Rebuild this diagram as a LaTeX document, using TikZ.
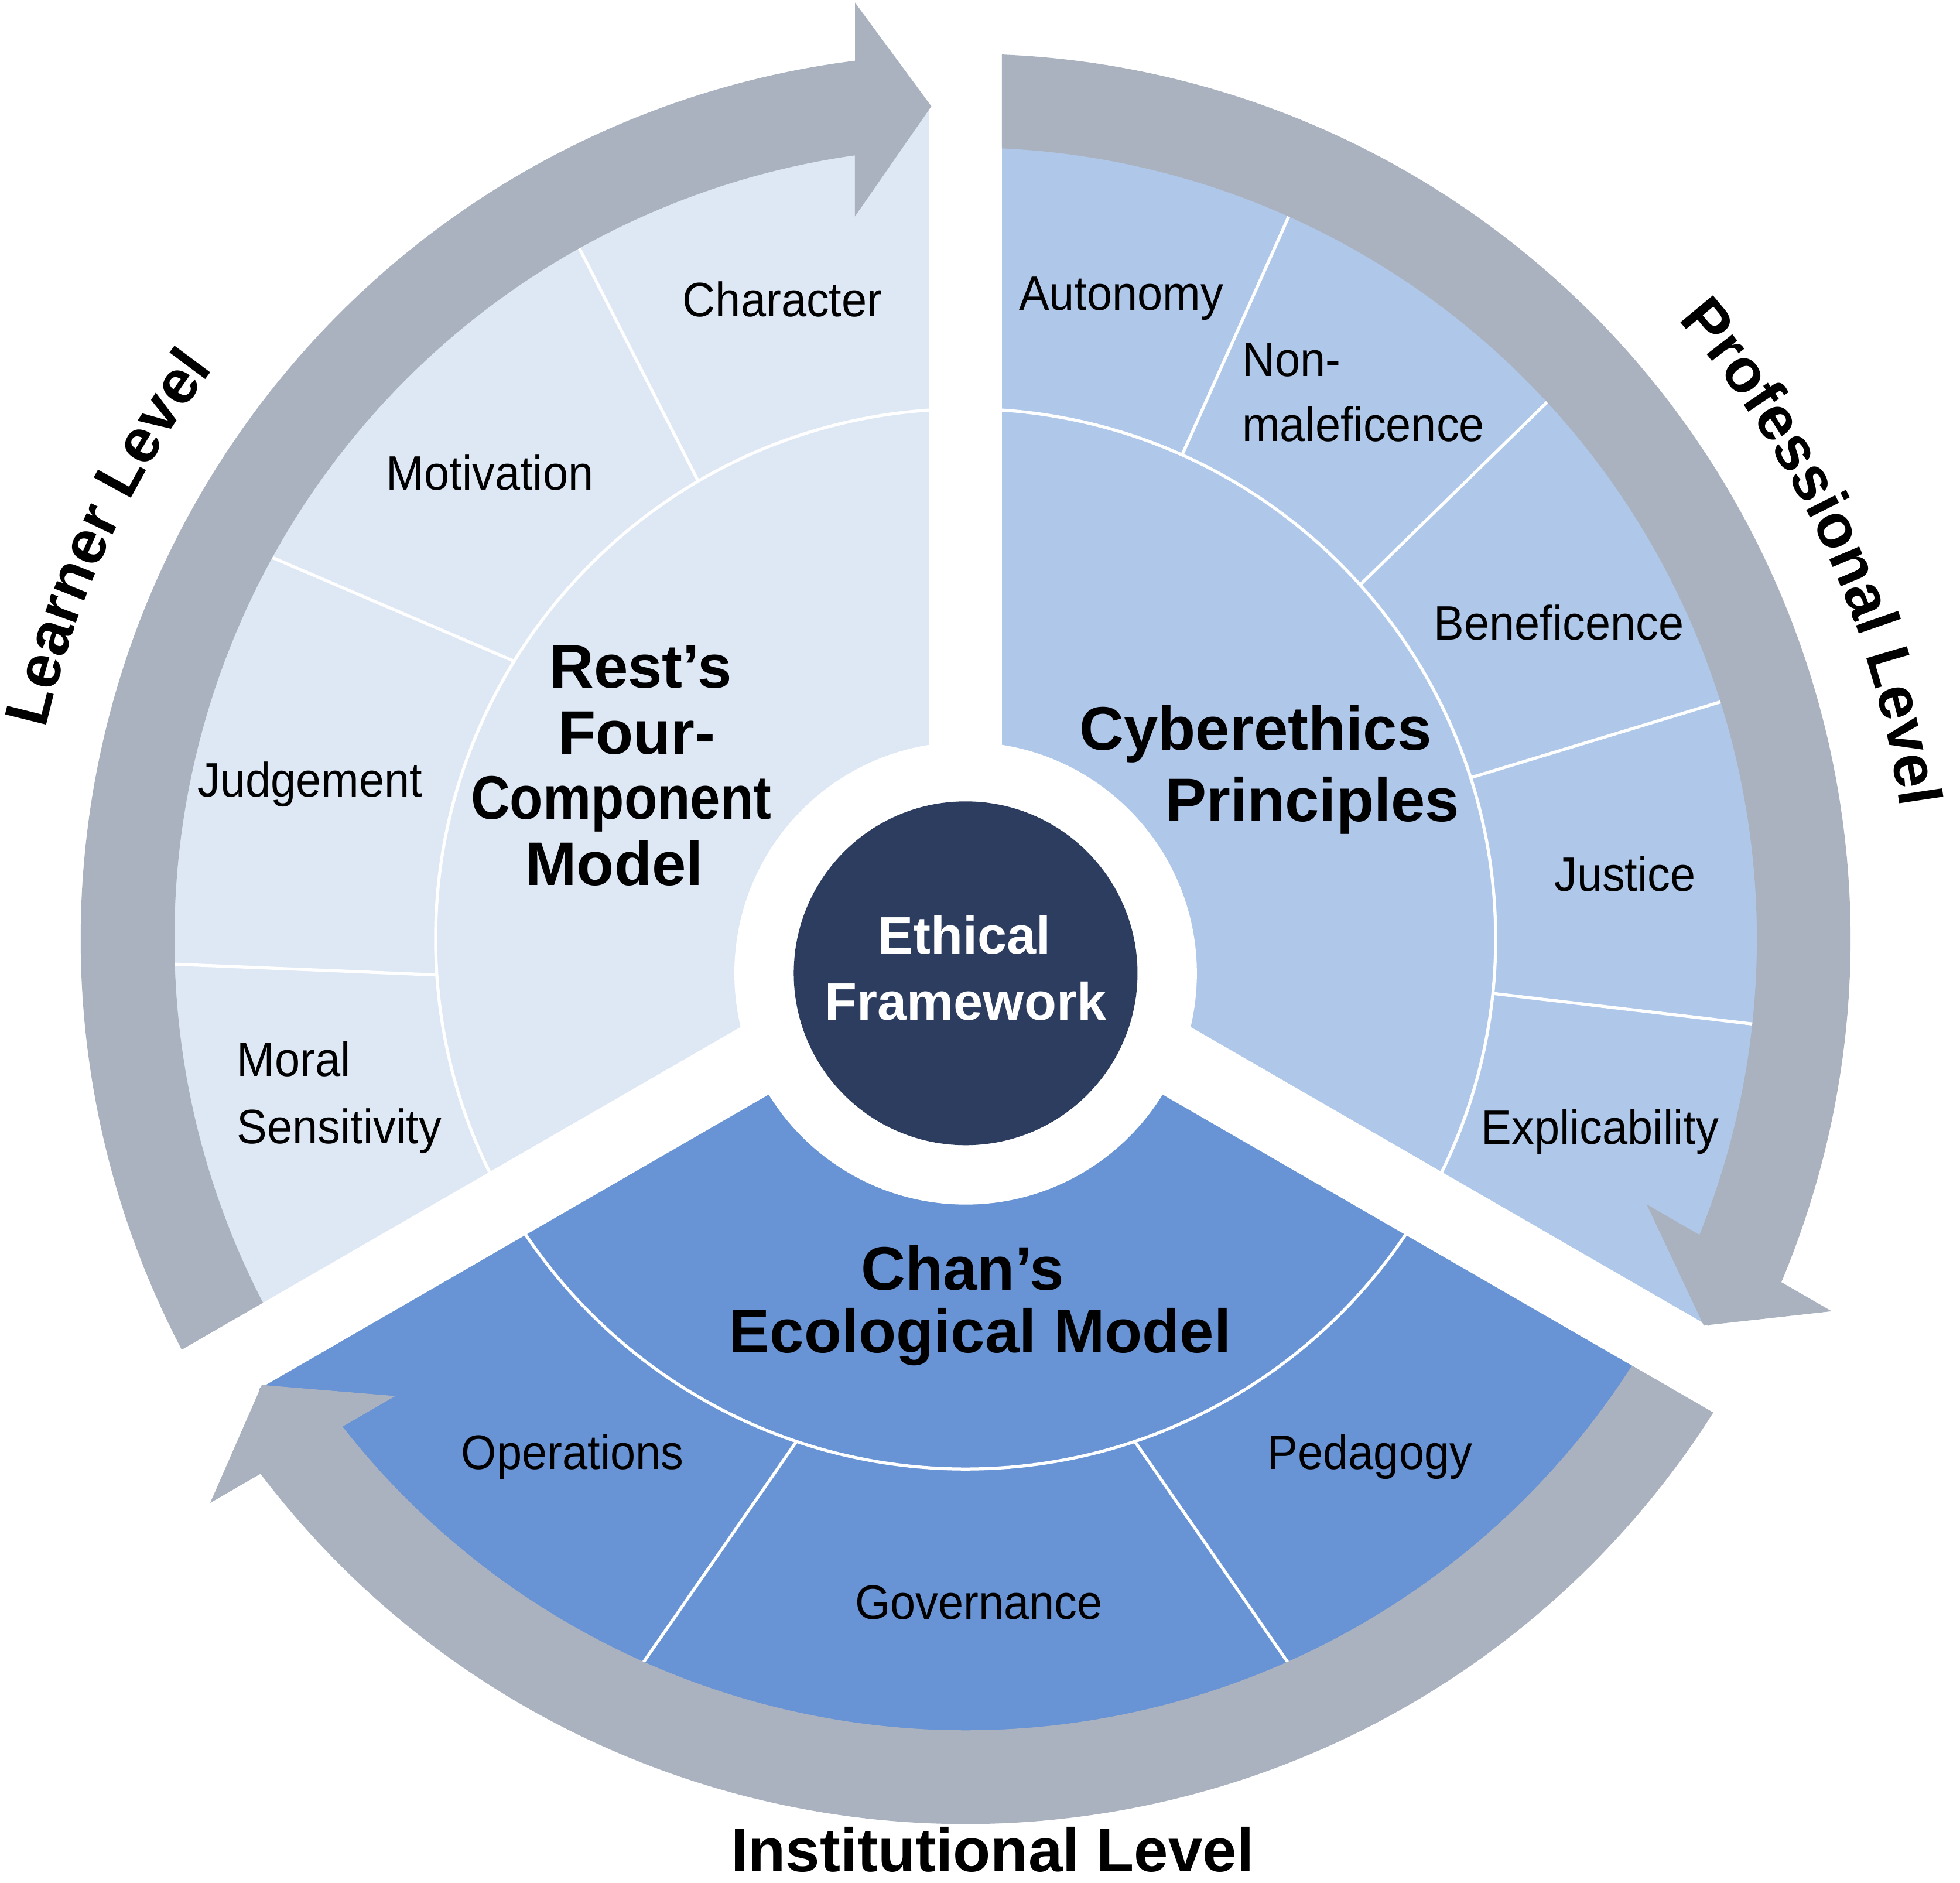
\documentclass[tikz,border=0pt]{standalone}
\usepackage{fontspec}
\setmainfont{Liberation Sans}
\newfontfamily\segfont{Liberation Sans}[FakeStretch=0.94]
\newfontfamily\squeezefont{Liberation Sans}[FakeStretch=0.88]
\usetikzlibrary{decorations.text}
\definecolor{learnerfill}{HTML}{DEE8F5}
\definecolor{proffill}{HTML}{AFC8EA}
\definecolor{instfill}{HTML}{6893D5}
\definecolor{levelgray}{HTML}{ABB2BF}
\definecolor{corenavy}{HTML}{2C3D60}
\newcommand\levelfont{\bfseries\fontsize{14}{16}\selectfont}
\tikzset{
  seglabel/.style={font=\segfont\fontsize{11}{14}\selectfont, anchor=base, inner sep=0pt},
  seglabelL/.style={seglabel, anchor=base west},
  modeltitle/.style={font=\bfseries\fontsize{14}{16}\selectfont, anchor=base, inner sep=0pt},
  corelabel/.style={font=\bfseries\fontsize{12}{14}\selectfont, text=white, anchor=base, inner sep=0pt},
  segline/.style={white, line width=0.7pt},
  gapbar/.style={white, line width=0.58cm},
  levelarrow/.style={fill=levelgray},
  leveltext/.style={decorate, decoration={text along path, text align=center, text={|\levelfont|#1}}},
}
\begin{document}
\begin{tikzpicture}
\useasboundingbox (-7.725,-7.55) rectangle (7.955,7.51);
\path (0,0) coordinate (C) (0,-0.275) coordinate (D);
\foreach \a/\b/\c in {90/210/learnerfill, -30/90/proffill, 210/330/instfill}
  \fill[\c] (C) -- (\a:6.7) arc[start angle=\a, end angle=\b, radius=6.7] -- cycle;
\draw[segline] (C) circle[radius=4.24];
\foreach \a/\b in {120.3/119.1, 148.4/151.5, 183.9/181.6, 65.9/65.9, 41.9/42.8,
    17.7/17.4, -5.9/-6.2, 251.4/245.4, 288.6/294.6}
  \draw[segline] (\a:4.24) -- (\b:6.7);
\foreach \a in {90,210,330}
  \draw[gapbar] (C) -- (\a:7.3);
\fill[white] (D) circle[radius=1.85];
\fill[corenavy] (D) circle[radius=1.375];
\foreach \r in {0,-120,120}
  \fill[levelarrow] ({\r+207.65}:7.08) arc[start angle=\r+207.65, end angle=\r+97.18, radius=7.08]
    -- ({\r+96.74}:7.542) -- ({\r+92.36}:6.666) -- ({\r+98.71}:5.847) -- ({\r+98.04}:6.33)
    arc[start angle=\r+98.04, end angle=\r+207.37, radius=6.33] -- cycle;
\node[seglabel] (character) at (-1.465,4.98) {Character};
\node[seglabel] (motivation) at (-3.805,3.59) {Motivation};
\node[seglabel] (judgement) at (-5.245,1.135) {Judgement};
\node[seglabelL] (moral) at (-5.835,-1.097) {Moral};
\node[seglabelL] (sensitivity) at (-5.835,-1.635) {Sensitivity};
\node[seglabel] (autonomy) at (1.245,5.03) {Autonomy};
\node[seglabelL] (non) at (2.205,4.50) {Non-};
\node[seglabelL] (maleficence) at (2.205,3.98) {maleficence};
\node[seglabel] (beneficence) at (4.745,2.39) {Beneficence};
\node[seglabel] (justice) at (5.275,0.38) {Justice};
\node[seglabel] (explicability) at (5.075,-1.64) {Explicability};
\node[seglabel] (operations) at (-3.145,-4.24) {Operations};
\node[seglabel] (governance) at (0.105,-5.44) {Governance};
\node[seglabel] (pedagogy) at (3.235,-4.24) {Pedagogy};
\node[modeltitle] (rest1) at (-2.60,2.01) {Rest’s};
\node[modeltitle] (rest2) at (-2.63,1.48) {Four-};
\node[modeltitle] (rest3) at (-2.755,0.96) {\squeezefont\bfseries Component};
\node[modeltitle] (rest4) at (-2.81,0.43) {Model};
\node[modeltitle] (cyber1) at (2.32,1.51) {Cyberethics};
\node[modeltitle] (cyber2) at (2.775,0.94) {Principles};
\node[modeltitle] (chan1) at (-0.025,-2.81) {Chan’s};
\node[modeltitle] (chan2) at (0.115,-3.31) {Ecological Model};
\node[corelabel] (core1) at (-0.01,-0.12) {Ethical};
\node[corelabel] (core2) at (0,-0.65) {Framework};
\node[modeltitle] (institutional) at (0.215,-7.46) {Institutional Level};
\path[leveltext=Learner Level] (175:7.55) arc[start angle=175, end angle=135, radius=7.55];
\path[leveltext=Professional Level] (44.5:7.55) arc[start angle=44.5, end angle=4.5, radius=7.55];
\end{tikzpicture}
\end{document}
